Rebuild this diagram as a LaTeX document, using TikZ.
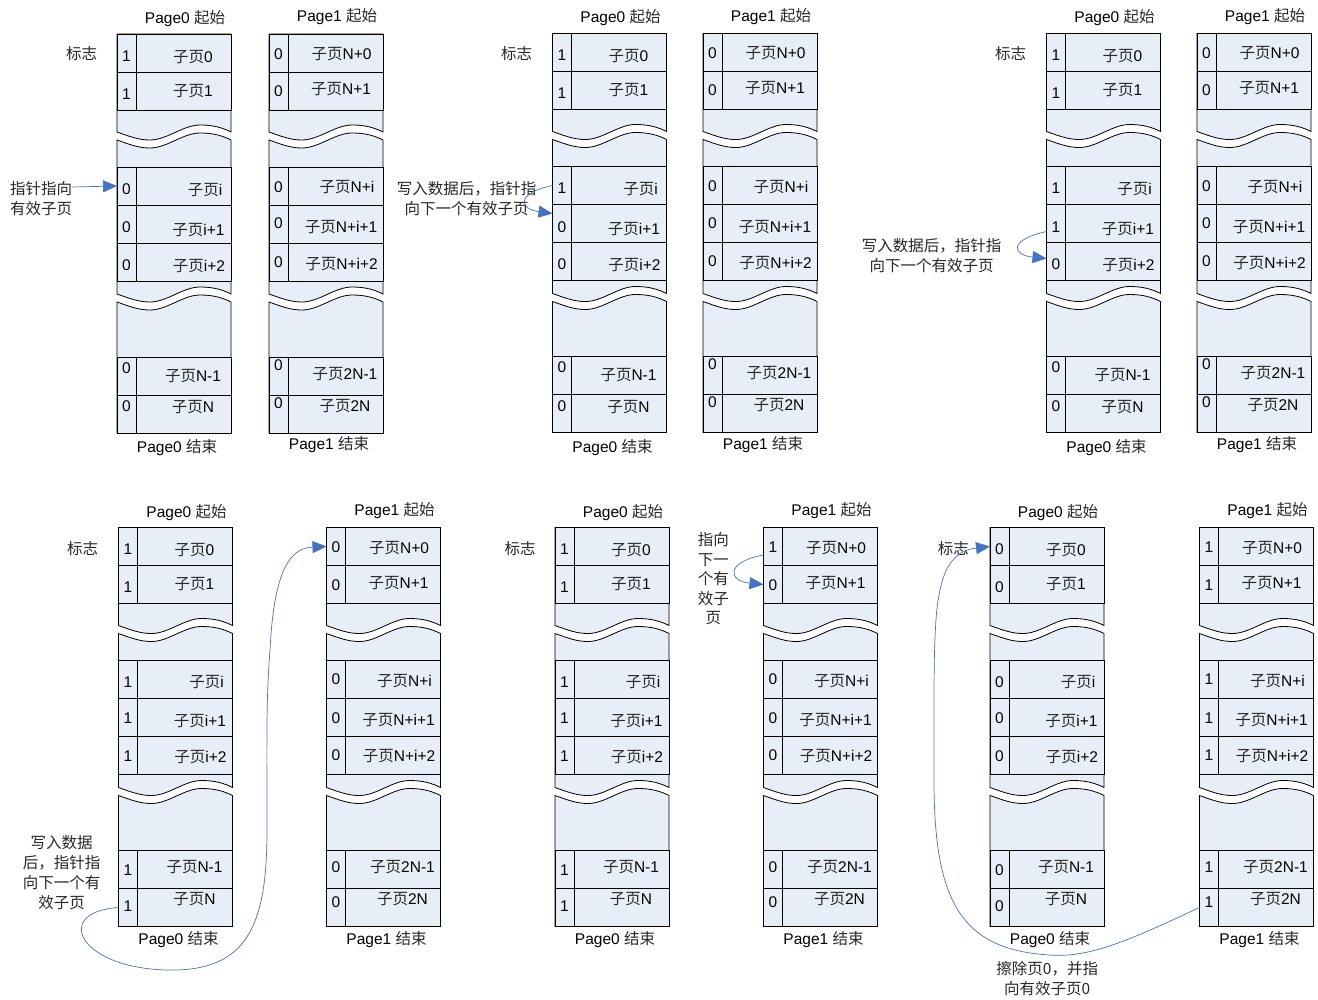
\documentclass[tikz,border=0pt]{standalone}
\usepackage{fontspec}
\setmainfont{Liberation Sans}
\newfontfamily\cjk{Noto Sans CJK SC}
\usetikzlibrary{arrows.meta}
\definecolor{pfill}{RGB}{232,238,248}
\definecolor{pblue}{RGB}{68,114,196}
\definecolor{cjkc}{RGB}{40,40,40}
\newcommand\zy{{\cjk\color{cjkc}子页}}
\newcommand\labA[1]{\ifcase#1\relax 0\or 1\or i\or i+1\or i+2\or N-1\or N\fi}
\newcommand\labB[1]{\ifcase#1\relax N+0\or N+1\or N+i\or N+i+1\or N+i+2\or 2N-1\or 2N\fi}
\let\labC\labA \let\labD\labB
\def\pgA{0}\def\pgB{1}\def\pgC{0}\def\pgD{1}
\def\rowtops{{0,38,133,171,209,323,361}}
\def\lxA{{76,76,88,81.5,82,76,76}}
\def\lyA{{22.7,56.7,156,196,231.7,341.7,373.3}}
\def\fyA{{21.7,60,155,193.3,231,334,372.3}}
\def\lxB{{72.5,72,78,72,72.5,76,76}}
\def\lyB{{20,55,153.3,193.3,230,340,371.7}}
\def\fyB{{20,57,152.7,189.3,227.7,330.7,369}}
\def\lxC{{76,76,88,81.5,82,76,76}}
\def\lyC{{22.5,56.8,154.2,193.2,229.2,339.8,371.8}}
\def\fyC{{21.5,59.2,154.2,190.8,228.5,342.5,378.5}}
\def\lxD{{72.5,72,78,72,72.5,76,76}}
\def\lyD{{20.8,55.2,153.2,192.5,228.5,339.2,371.8}}
\def\fyD{{19.8,57.5,151.8,190.2,227.5,339.2,375}}
\def\tyA{{-15.7,414}}
\def\tyB{{-17.3,411}}
\def\tyC{{-14.8,412}}
\def\tyD{{-16.8,412}}
\newcommand\wavef[1]{.. controls (14,#1+5) and (22,#1+8) .. (33,#1+8) .. controls (50,#1+8) and (66,#1-7) .. (83,#1-7) .. controls (97,#1-7) and (106,#1-4) .. (114,#1)}
\newcommand\waver[1]{.. controls (106,#1-4) and (97,#1-7) .. (83,#1-7) .. controls (66,#1-7) and (50,#1+8) .. (33,#1+8) .. controls (22,#1+8) and (14,#1+5) .. (0,#1)}
\tikzset{
 piece/.style={fill=pfill,draw=black,line width=0.8pt},
 rowbox/.style={draw=black,fill=pfill,line width=0.8pt,minimum width=114pt,minimum height=38pt,inner sep=0pt,outer sep=0pt},
 flagbox/.style={draw=black,line width=0.8pt,minimum width=19pt,minimum height=38pt,inner sep=0pt,outer sep=0pt},
 txt/.style={inner sep=0pt,font=\fontsize{15.5}{20}\selectfont},
 note/.style={inner sep=0pt,align=center,text=cjkc,font=\fontsize{15.5}{20}\selectfont\cjk},
 ptr/.style={draw=pblue,line width=0.7pt,-{Triangle[length=14pt,width=12pt,fill=pblue]}},
}
\newcommand\pcol[4]{%
\begin{scope}[shift={#2}]
  \expandafter\let\expandafter\curlx\csname lx#3\endcsname
  \expandafter\let\expandafter\curly\csname ly#3\endcsname
  \expandafter\let\expandafter\curfy\csname fy#3\endcsname
  \expandafter\let\expandafter\curty\csname ty#3\endcsname
  \filldraw[piece] (0,0) -- (114,0) -- (114,98) \waver{98} -- cycle;
  \filldraw[piece] (0,106) \wavef{106} -- (114,260) \waver{260} -- cycle;
  \filldraw[piece] (0,268) \wavef{268} -- (114,399) -- (0,399) -- cycle;
  \foreach \f [count=\i from 0] in {#4} {
    \pgfmathsetmacro\rt{\rowtops[\i]+19}
    \pgfmathsetmacro\lx{\curlx[\i]}
    \pgfmathsetmacro\ly{\curly[\i]}
    \pgfmathsetmacro\fy{\curfy[\i]}
    \node[rowbox] (#1r\i) at (57,\rt) {};
    \node[flagbox] (#1f\i) at (9.5,\rt) {};
    \node[txt] (#1n\i) at (9.5,\fy) {\f};
    \node[txt] (#1l\i) at (\lx,\ly) {\zy\csname lab#3\endcsname{\i}};
  }
  \pgfmathsetmacro\tya{\curty[0]}
  \pgfmathsetmacro\tyb{\curty[1]}
  \node[txt] (#1s) at (68,\tya) {Page\csname pg#3\endcsname\ {\cjk\color{cjkc}起始}};
  \node[txt] (#1e) at (60,\tyb) {Page\csname pg#3\endcsname\ {\cjk\color{cjkc}结束}};
\end{scope}}
\begin{document}
\begin{tikzpicture}[x=1pt,y=-1pt]
\useasboundingbox (0,0) rectangle (1318,1000);
\fill[white] (0,0) rectangle (1318,1000);
\pcol{p1A}{(117,34)}{A}{1,1,0,0,0,0,0}
\pcol{p1B}{(269,34)}{B}{0,0,0,0,0,0,0}
\pcol{p2A}{(552.5,33.5)}{A}{1,1,1,0,0,0,0}
\pcol{p2B}{(703,33.5)}{B}{0,0,0,0,0,0,0}
\pcol{p3A}{(1046.5,33.5)}{A}{1,1,1,1,0,0,0}
\pcol{p3B}{(1197,33.5)}{B}{0,0,0,0,0,0,0}
\pcol{p4A}{(118.5,527.5)}{C}{1,1,1,1,1,1,1}
\pcol{p4B}{(326.5,527.5)}{D}{0,0,0,0,0,0,0}
\pcol{p5A}{(555,527.5)}{C}{1,1,1,1,1,1,1}
\pcol{p5B}{(763.5,527.5)}{D}{1,0,0,0,0,0,0}
\pcol{p6A}{(990,527.5)}{C}{0,0,0,0,0,0,0}
\pcol{p6B}{(1199.5,527.5)}{D}{1,1,1,1,1,1,1}
% flag labels
\node[note] (bz1) at (81.7,53.3) {标志};
\node[note] (bz2) at (516.7,53.3) {标志};
\node[note] (bz3) at (1010.7,53.3) {标志};
\node[note] (bz4) at (82.7,548.3) {标志};
\node[note] (bz5) at (520,548.3) {标志};
\node[note] (bz6) at (953.3,548.3) {标志};
% notes
\node[note] (t1) at (41,198.3) {指针指向\\有效子页};
\node[note] (t2) at (466.7,198.3) {写入数据后，指针指\\向下一个有效子页};
\node[note] (t3) at (931.7,255.7) {写入数据后，指针指\\向下一个有效子页};
\node[note] (t4) at (61.7,872.8) {写入数据\\后，指针指\\向下一个有\\效子页};
\node[note,font=\fontsize{15.5}{19.4}\selectfont\cjk] (t5) at (713.3,578.8) {指向\\下一\\个有\\效子\\页};
\node[note,font=\fontsize{15.5}{20.7}\selectfont\cjk] (t6) at (1047.2,978.7) {擦除页0，并指\\向有效子页0};
% pointers
\coordinate (a1s) at (72,187);
\draw[ptr] (a1s) -- (p1Af2.west);
\draw[ptr] (p2Af2.west) .. controls (516,193) and (519,209) .. ([yshift=10pt]p2Af3.west);
\draw[ptr] ([yshift=-8pt]p3Af3.west) .. controls (1008,240) and (1012,255) .. ([yshift=3pt]p3Af4.west);
\draw[ptr] (p4Af6.west) .. controls (50,912) and (80,972) .. (176.7,970) .. controls (250,968) and (267,920) .. (267,830) .. controls (267,740) and (266,700) .. (270,650) .. controls (274,570) and (290,548) .. (p4Bf0.west);
\draw[ptr] ([yshift=-8.5pt]p5Bf0.west) .. controls (725,562) and (728,581) .. (p5Bf1.west);
\draw[ptr] (p6Bf6.west) .. controls (1130,940) and (1090,958) .. (1050,955) .. controls (960,950) and (934,900) .. (934,780) .. controls (934,680) and (933,620) .. (940,590) .. controls (946,560) and (960,550) .. (p6Af0.west);
\end{tikzpicture}
\end{document}
